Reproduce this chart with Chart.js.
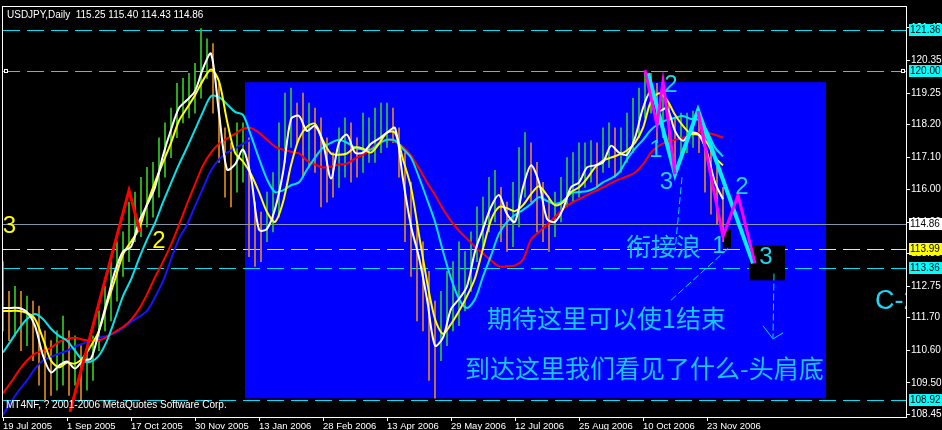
<!DOCTYPE html>
<html>
<head>
<meta charset="utf-8">
<script src="https://cdn.jsdelivr.net/npm/chart.js@4"></script>
<style>
  html, body { margin: 0; padding: 0; background: #000; }
  #box { width: 942px; height: 430px; }
</style>
</head>
<body>
<div id="box"><canvas id="c"></canvas></div>
<script>
// x axis = trading day counted from 19 Jul 2005
const dateLabels = ['19 Jul 2005', '1 Sep 2005', '17 Oct 2005', '30 Nov 2005', '13 Jan 2006', '28 Feb 2006',
  '13 Apr 2006', '29 May 2006', '12 Jul 2006', '25 Aug 2006', '10 Oct 2006', '23 Nov 2006'];
const daysPerLabel = 32;
const priceTicks = [121.45, 120.35, 119.25, 118.20, 117.10, 116.00, 114.90, 113.85, 112.75, 111.70, 110.60, 109.50, 108.45];

// daily bars, one every 3 days
const barStep = 3;
const barHigh = [113.58,112.58,112.75,112.58,112.42,112.25,112.08,111.25,110.92,111.25,
  111.75,111.25,111.08,110.75,110.58,111.08,111.92,112.75,113.58,114.25,
  114.58,115.58,115.92,116.42,116.75,116.92,117.75,118.25,118.75,119.58,
  119.75,119.92,120.25,121.42,121.08,120.92,119.58,118.08,117.58,118.25,
  118.25,117.75,115.58,115.25,115.92,116.58,118.25,119.25,119.42,118.92,
  119.25,118.92,118.75,118.42,117.75,117.25,118.08,118.42,118.25,117.75,
  118.58,118.42,118.75,118.92,118.92,118.75,118.08,117.25,116.25,114.92,
  114.25,113.25,112.25,112.58,113.25,113.58,114.25,113.92,114.58,115.42,
  115.75,116.42,116.65,116.08,115.58,116.25,117.42,117.92,117.58,116.92,
  116.25,115.75,115.92,116.42,117.08,117.25,117.58,117.58,117.65,117.58,
  118.08,118.25,118.08,118.08,118.58,119.08,119.42,119.98,119.92,119.58,
  119.42,118.92,118.42,118.58,118.58,118.65,118.58,117.92,117.58,116.75,
  116.08];
const barLow = [111.25,110.92,111.08,110.58,110.75,110.25,109.42,108.92,109.08,109.25,
  109.42,109.08,109.42,108.92,109.25,109.58,110.58,111.25,111.58,112.25,
  113.08,113.58,114.25,114.42,114.75,115.08,115.75,116.42,117.08,117.75,
  118.25,118.42,118.58,119.08,119.75,118.58,116.92,115.75,115.42,115.92,
  116.25,113.75,113.42,113.58,114.25,114.58,115.08,116.92,117.42,117.58,
  116.42,116.75,116.58,115.42,115.58,115.75,116.08,116.42,116.25,116.42,
  116.58,116.92,116.92,117.25,117.42,117.58,116.42,114.25,113.08,111.58,
  111.25,109.58,108.98,110.25,110.75,111.25,111.42,111.92,112.58,113.58,
  114.08,114.58,114.92,114.25,113.92,114.08,114.75,115.75,115.58,114.58,
  114.25,113.92,114.42,114.92,115.42,115.58,115.75,116.08,116.25,116.08,
  116.58,116.75,116.42,116.58,116.92,117.25,117.75,118.42,118.58,117.58,
  117.75,117.25,116.75,117.08,117.25,117.42,117.25,115.92,115.18,114.85,
  114.25];

// moving averages, one value every 4 days
const maStep = 4;
const maWhite = [112.02,112.02,112.02,111.88,111.42,110.42,109.85,110.08,110.22,109.98,
  110.25,110.32,111.25,112.25,113.25,113.92,114.08,114.92,115.48,116.08,
  117.15,118.02,118.75,119.02,119.32,120.08,120.58,118.58,116.68,116.85,
  117.35,116.42,114.65,114.68,115.35,116.58,118.38,118.48,117.98,118.15,
  117.58,116.38,117.58,117.85,117.25,117.25,117.55,117.72,117.92,118.08,
  116.35,114.78,113.72,112.32,110.75,111.02,111.98,112.32,112.75,113.92,
  114.68,115.42,115.82,115.18,114.92,116.08,116.82,116.25,115.02,114.92,
  115.35,116.08,116.25,116.75,116.82,116.92,117.48,117.25,117.18,117.75,
  118.75,119.32,118.65,118.75,117.98,117.65,117.92,117.85,117.25,116.25,
  115.68];
const maYellow = [111.92,111.92,111.92,111.85,111.65,110.98,110.25,110.02,110.18,110.15,
  110.35,110.75,111.25,112.15,112.98,113.82,114.25,114.68,115.52,116.25,
  116.92,117.58,118.32,118.75,119.18,119.68,120.05,119.65,118.32,117.25,
  116.95,116.52,115.92,115.25,114.92,115.58,116.82,117.72,118.12,118.22,
  117.65,117.22,117.18,117.22,117.42,117.38,117.25,117.55,117.92,117.92,
  117.02,116.08,114.48,112.92,111.65,111.15,111.48,111.92,112.42,113.02,
  114.02,114.98,115.42,115.38,115.28,115.48,115.85,116.12,115.82,115.48,
  115.58,115.92,116.08,116.38,116.75,116.98,117.08,117.18,117.32,117.58,
  118.08,118.98,119.25,119.02,118.52,118.15,117.88,117.85,117.58,117.08,
  116.82];
const maCyan = [110.52,110.92,111.32,111.65,111.82,111.65,111.32,111.08,110.92,110.58,
  110.25,110.22,110.42,110.92,111.65,112.42,112.98,113.68,114.32,114.88,
  115.58,116.22,116.85,117.42,118.02,118.62,119.15,119.12,118.88,118.62,
  118.52,117.82,117.05,116.35,115.92,115.98,116.15,116.25,116.68,117.08,
  117.42,117.58,117.68,117.58,117.42,117.35,117.35,117.55,117.68,117.65,
  117.38,117.08,116.42,115.68,114.92,113.92,113.02,112.32,112.02,112.32,
  113.08,113.78,114.52,114.92,115.15,115.32,115.52,115.75,115.62,115.52,
  115.62,115.88,115.92,115.95,116.05,116.25,116.38,116.58,117.02,117.38,
  117.68,118.02,118.22,118.35,118.42,118.48,118.38,118.35,117.98,117.42,
  117.12];
const maRed = [109.15,109.52,109.92,110.25,110.48,110.58,110.68,110.88,110.98,111.02,
  110.95,110.92,110.92,111.05,111.22,111.38,111.62,111.98,112.48,113.05,
  113.58,114.15,114.82,115.52,116.18,116.82,117.25,117.55,117.72,117.88,
  118.05,118.08,117.92,117.68,117.45,117.35,117.28,117.22,116.98,116.85,
  116.75,116.78,116.85,116.88,117.05,117.18,117.38,117.58,117.68,117.62,
  117.45,117.15,116.72,116.25,115.82,115.35,114.95,114.62,114.35,114.08,
  113.85,113.62,113.42,113.42,113.45,113.65,114.32,114.58,114.82,115.08,
  115.35,115.55,115.68,115.82,115.95,116.08,116.22,116.35,116.45,116.58,
  116.85,117.25,117.48,117.62,117.68,117.75,117.85,117.92,117.92,117.85,
  117.75];
const maBlue = [108.42,108.85,109.25,109.58,109.98,110.25,110.38,110.48,110.58,110.72,
  110.82,110.92,111.02,111.08,111.18,111.35,111.55,111.72,111.92,112.38,
  112.92,113.65,114.35,114.82,115.45,116.05,116.65,117.02,117.25,117.38,
  117.55,117.68];

// wave count trend lines: [day, price]
const waveRed = [[33.5, 108.52], [63, 115.98], [68.5, 114.58]];
const waveCyan = [[322.5, 119.92], [336, 116.52], [347.5, 118.68], [375, 113.52]];
const waveMagenta = [[321, 120.02], [327, 118.18], [330, 119.65], [336, 116.52], null,
  [347.5, 118.65], [360, 114.42], [367.5, 115.82], [376, 113.52]];
const guideA = [[339.5, 116.42], [336, 113.92]];
const guideB = [[362.5, 114.02], [333.5, 112.25]];
const guideC = [[385.5, 113.18], [385, 111.02]];
const arrowHead = [[380, 111.42], [385, 110.98], [390, 111.18]];

// horizontal price levels
const levelPrices = [121.36, 120.00, 114.86, 113.99, 113.36, 108.92];
const levelKinds = ['cyan', 'cyan', 'price', 'yellow', 'cyan', 'cyan'];

// boxes: [fromDay, toDay, topPrice, bottomPrice]
const blueZone = [121, 411.5, 119.62, 108.98];
const blackBoxes = [[360, 364, 114.65, 114.05], [373, 391, 114.12, 112.95]];

// text labels: [text, day, price]
const yellowMarks = [['3', 3.25, 114.78], ['2', 78, 114.25]];
const cyanMarks = [['2', 334, 119.52], ['1', 326.5, 117.33], ['3', 331.75, 116.25],
  ['2', 369.5, 116.08], ['1', 358, 114.08], ['3', 381.5, 113.72]];
const notes = [['衔接浪', 311.5, 114.10], ['期待这里可以使1结束', 242, 111.65],
  ['到达这里我们看见了什么-头肩底', 231, 109.98]];
const sideNote = ['C-2', 436, 112.25];

const title = 'USDJPY,Daily  115.25 115.40 114.43 114.86';
const footer = 'MT4NF, ? 2001-2006 MetaQuotes Software Corp.';

const UI = "'Liberation Sans',Arial,sans-serif";
const CYAN = '#00e0f0';
const TXT = '#18c6f2';

const pts = (arr, step) => arr.map((v, i) => ({ x: i * step, y: v }));
const pairs = arr => arr.map(p => p ? { x: p[0], y: p[1] } : { x: null, y: null });

const bars = barHigh.map((h, i) => ({ x: i * barStep, y: [barLow[i], h] }));
const barColors = barHigh.map((h, i) =>
  i === 0 || h + barLow[i] >= barHigh[i - 1] + barLow[i - 1] ? '#33cc22' : '#e08a20');

function line(data, color, width, order, extra) {
  return Object.assign({ type: 'line', data, borderColor: color, borderWidth: width, pointRadius: 0,
    tension: 0.3, fill: false, order }, extra || {});
}

const overlay = {
  id: 'overlay',
  beforeDatasetsDraw(chart) {
    const { ctx, chartArea: a, scales: { x, y } } = chart;
    ctx.save();
    ctx.beginPath(); ctx.rect(a.left, a.top, a.width, a.height); ctx.clip();
    const rect = (b, color) => {
      const x0 = x.getPixelForValue(b[0]), x1 = x.getPixelForValue(b[1]);
      const y0 = y.getPixelForValue(b[2]), y1 = y.getPixelForValue(b[3]);
      ctx.fillStyle = color; ctx.fillRect(x0, y0, x1 - x0, y1 - y0);
    };
    rect(blueZone, '#0000ff');
    levelPrices.forEach((p, i) => {
      const py = Math.round(y.getPixelForValue(p)) + 0.5;
      const k = levelKinds[i];
      ctx.strokeStyle = k === 'yellow' ? '#ffff00' : k === 'price' ? '#8495a8' : CYAN;
      ctx.lineWidth = 1;
      ctx.setLineDash(k === 'price' ? [] : [17, 7]);
      ctx.beginPath(); ctx.moveTo(a.left, py); ctx.lineTo(a.right, py); ctx.stroke();
    });
    ctx.setLineDash([]);
    blackBoxes.forEach(b => rect(b, '#000'));
    // small handles on the 120.00 line
    const hy = Math.round(y.getPixelForValue(levelPrices[1]));
    ctx.fillStyle = '#fff';
    [a.left + 1, a.right - 5].forEach(hx => {
      ctx.fillRect(hx, hy - 2, 4, 4);
      ctx.fillStyle = '#000'; ctx.fillRect(hx + 1, hy - 1, 2, 2); ctx.fillStyle = '#fff';
    });
    ctx.restore();
  },
  afterDatasetsDraw(chart) {
    const { ctx, chartArea: a, scales: { x, y } } = chart;
    ctx.save();
    ctx.beginPath(); ctx.rect(a.left, a.top, a.width, a.height); ctx.clip();
    ctx.textBaseline = 'middle';
    ctx.textAlign = 'center';
    ctx.font = "24px 'Liberation Sans',Arial,sans-serif";
    ctx.fillStyle = '#ffff00';
    yellowMarks.forEach(m => ctx.fillText(m[0], x.getPixelForValue(m[1]), y.getPixelForValue(m[2])));
    ctx.fillStyle = '#1ed6f4';
    cyanMarks.forEach(m => ctx.fillText(m[0], x.getPixelForValue(m[1]), y.getPixelForValue(m[2])));
    ctx.textAlign = 'left';
    ctx.fillStyle = TXT;
    ctx.font = "25px 'Noto Sans CJK SC',sans-serif";
    notes.forEach(m => ctx.fillText(m[0], x.getPixelForValue(m[1]), y.getPixelForValue(m[2])));
    ctx.font = "27px 'Liberation Sans',Arial,sans-serif";
    ctx.fillStyle = '#1ed6f4';
    ctx.fillText(sideNote[0], x.getPixelForValue(sideNote[1]), y.getPixelForValue(sideNote[2]));
    ctx.restore();

    ctx.save();
    ctx.fillStyle = '#fff';
    ctx.textBaseline = 'middle';
    ctx.font = '10px ' + UI;
    ctx.fillText(title, a.left + 4, a.top + 8);
    ctx.fillText(footer, a.left + 3, a.bottom - 12);
    ctx.strokeStyle = '#fff'; ctx.lineWidth = 1;
    ctx.strokeRect(a.left - 0.5, a.top - 0.5, a.width + 1, a.height + 1);
    ctx.restore();
  },
  afterDraw(chart) {
    const { ctx, chartArea: a, scales: { y } } = chart;
    ctx.save();
    ctx.font = '10px ' + UI;
    ctx.textBaseline = 'middle';
    levelPrices.forEach((p, i) => {
      const py = Math.round(y.getPixelForValue(p));
      const k = levelKinds[i];
      ctx.fillStyle = k === 'yellow' ? '#ffff00' : k === 'price' ? '#ffffff' : '#00ffff';
      ctx.fillRect(a.right + 3, py - 6, 33, 12);
      ctx.fillStyle = '#000';
      ctx.fillText(p.toFixed(2), a.right + 4, py + 0.5);
    });
    ctx.restore();
  }
};

new Chart(document.getElementById('c'), {
  type: 'line',
  data: {
    datasets: [
      { type: 'bar', data: bars, backgroundColor: barColors, barThickness: 1, borderWidth: 0, order: 20 },
      line(pts(maBlue, maStep), '#1414ff', 2, 15),
      line(pts(maRed, maStep), '#ff0000', 2, 14),
      line(pts(maCyan, maStep), '#00e5ea', 2, 13),
      line(pts(maYellow, maStep), '#ffff00', 2, 12),
      line(pts(maWhite, maStep), '#ffffff', 2, 11),
      line(pairs(guideA), CYAN, 1, 6, { tension: 0, borderDash: [7, 3] }),
      line(pairs(guideB), CYAN, 1, 6, { tension: 0, borderDash: [7, 3] }),
      line(pairs(guideC), CYAN, 1, 6, { tension: 0, borderDash: [7, 3] }),
      line(pairs(arrowHead), CYAN, 1, 6, { tension: 0 }),
      line(pairs(waveRed), '#ff0000', 3, 4, { tension: 0 }),
      line(pairs(waveCyan), '#00f0ff', 4, 3, { tension: 0 }),
      line(pairs(waveMagenta), '#ff00ff', 3, 2, { tension: 0, spanGaps: false })
    ]
  },
  options: {
    responsive: true,
    maintainAspectRatio: false,
    animation: false,
    events: [],
    layout: { padding: { left: 3, top: 3, right: 0, bottom: 0 } },
    plugins: { legend: { display: false }, tooltip: { enabled: false } },
    scales: {
      x: {
        type: 'linear', min: 0, max: 451.5, offset: false,
        grid: { drawOnChartArea: false, drawTicks: true, tickLength: 4, color: '#fff', offset: false },
        border: { display: false },
        afterBuildTicks: s => { s.ticks = dateLabels.map((_, i) => ({ value: i * daysPerLabel })); },
        ticks: { autoSkip: false, maxRotation: 0, align: 'start', padding: 0, color: '#fff',
          font: { family: UI, size: 9.5 }, callback: (v, i) => dateLabels[i] },
        afterFit: s => { s.height = 13; }
      },
      y: {
        position: 'right', min: 108.35, max: 122.15,
        grid: { drawOnChartArea: false, drawTicks: true, tickLength: 4, color: '#fff' },
        border: { display: false },
        afterBuildTicks: s => { s.ticks = priceTicks.map(v => ({ value: v })); },
        ticks: { autoSkip: false, padding: 1, color: '#fff', font: { family: UI, size: 10 },
          callback: v => v.toFixed(2) },
        afterFit: s => { s.width = 36; }
      }
    }
  },
  plugins: [overlay]
});
</script>
</body>
</html>
